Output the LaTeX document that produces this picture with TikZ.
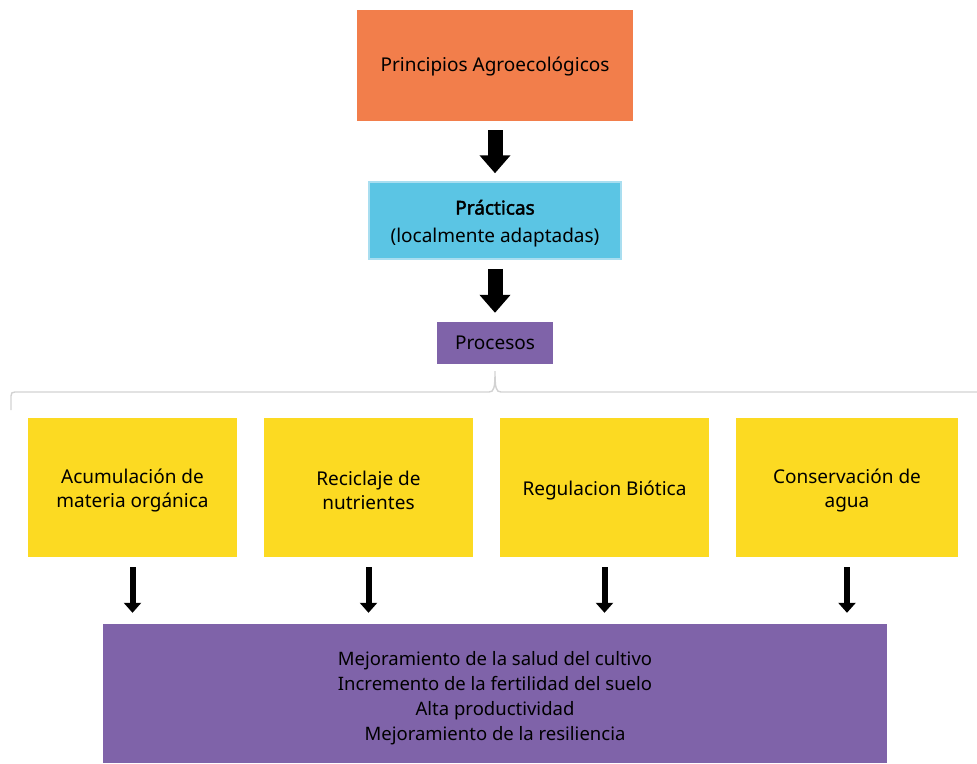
\documentclass[tikz,border=0pt]{standalone}
\usepackage{fontspec}
\setmainfont{Noto Sans}[BoldFont={Noto Sans}, BoldFeatures={FakeBold=2.2}]
\usetikzlibrary{arrows.meta}
\definecolor{orangebox}{HTML}{F27E4B}
\definecolor{cyanbox}{HTML}{5BC5E4}
\definecolor{cyanborder}{HTML}{A9DEF0}
\definecolor{purplebox}{HTML}{7F63A9}
\definecolor{yellowbox}{HTML}{FCDA22}
\definecolor{bracegray}{HTML}{D2D2D2}
\tikzset{
  x=1pt, y=-1pt,
  boxbase/.style={inner sep=0pt, align=center, font=\fontsize{19}{25}\selectfont, text=black},
  topbox/.style={boxbase, fill=orangebox, minimum width=276pt, minimum height=111pt},
  toptext/.style={align=center, inner sep=0pt, yshift=-1.5pt, font=\fontsize{19}{25}\selectfont},
  pracbox/.style={inner sep=0pt, fill=cyanbox, draw=cyanborder, line width=1.5pt, minimum width=252pt, minimum height=77pt},
  practext/.style={align=center, inner sep=0pt, yshift=-3pt, font=\fontsize{19}{28}\selectfont},
  procbox/.style={boxbase, fill=purplebox, minimum width=116pt, minimum height=42pt},
  yelbox/.style={inner sep=0pt, fill=yellowbox, minimum height=139pt},
  yeltext/.style={align=center, inner sep=0pt, yshift=-3pt, font=\fontsize{19}{24}\selectfont},
  resbox/.style={inner sep=0pt, fill=purplebox, minimum width=784pt, minimum height=139pt},
  restext/.style={align=center, inner sep=0pt, yshift=-5pt, font=\fontsize{18.5}{25}\selectfont},
  bigarrow/.style={line width=15pt, -{Triangle[width=30pt,length=18pt]}},
  smallarrow/.style={line width=6pt, -{Triangle[width=17pt,length=10pt]}},
  bracestyle/.style={draw=bracegray, line width=1.4pt}
}
\begin{document}
\begin{tikzpicture}
\useasboundingbox (0,0) rectangle (977,763);
\node[topbox, label={[toptext]center:{Principios Agroecológicos}}] (top) at (495,65.5) {};
\node[pracbox, label={[practext]center:{\textbf{Prácticas}\\(localmente adaptadas)}}] (prac) at (495,220.5) {};
\node[procbox] (proc) at (495,343) {Procesos};
\node[yelbox, minimum width=209pt, label={[yeltext]center:{Acumulación de\\materia orgánica}}] (y1) at (132.5,487.5) {};
\node[yelbox, minimum width=209pt, label={[yeltext]center:{Reciclaje de\\nutrientes}}] (y2) at (368.5,487.5) {};
\node[yelbox, minimum width=209pt, label={[yeltext]center:{Regulacion Biótica}}] (y3) at (604.5,487.5) {};
\node[yelbox, minimum width=222pt, label={[yeltext]center:{Conservación de\\agua}}] (y4) at (847,487.5) {};
\node[resbox, label={[restext]center:{Mejoramiento de la salud del cultivo\\Incremento de la fertilidad del suelo\\Alta productividad\\Mejoramiento de la resiliencia}}] (res) at (495,693.5) {};
% big arrows
\draw[bigarrow] ([yshift=-9pt]top.south) -- ([yshift=8pt]prac.north);
\draw[bigarrow] ([yshift=-9pt]prac.south) -- ([yshift=9pt]proc.north);
% small arrows
\foreach \b in {y1,y2,y3,y4}{
  \draw[smallarrow] ([yshift=-10pt]\b.south) -- ([yshift=11pt]\b.south |- res.north);
}
% brace
\coordinate (peak) at ([yshift=-7pt]proc.south);
\coordinate (bl) at (11,410);
\coordinate (br) at (977,392);
\draw[bracestyle] (bl) -- (11,396) .. controls (11,393) and (12,392) .. (15,392) -- (489,392)
  .. controls (494,392) and (495,388) .. (peak) .. controls (495,388) and (496,392) .. (501,392) -- (br);
\end{tikzpicture}
\end{document}
